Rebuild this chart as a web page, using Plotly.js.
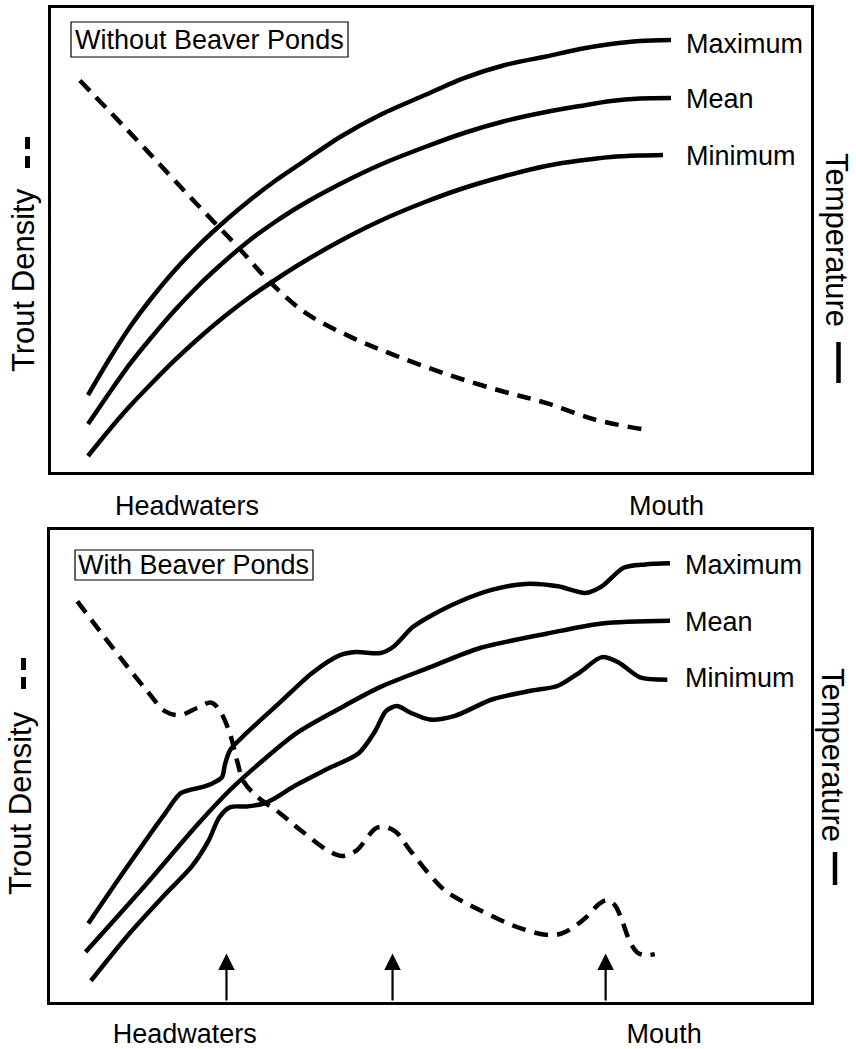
<!DOCTYPE html>
<html>
<head>
<meta charset="utf-8">
<script src="https://cdn.plot.ly/plotly-3.0.1.min.js"></script>
<style>html,body{margin:0;padding:0;background:#fff;}#chart{width:856px;height:1049px;}</style>
</head>
<body>
<div id="chart"></div>
<script>
// ---------- DATA (arbitrary units: x = distance downstream 0-100, y = relative level 0-100) ----------
// Panel 1: Without Beaver Ponds
const noPondMaxX = [4.87, 7.76, 10.39, 13.03, 16.32, 19.61, 22.89, 26.18, 29.47, 32.76, 38.03, 43.55, 49.21, 54.34, 59.74, 65.13, 69.61, 73.68, 77.50, 81.58];
const noPondMaxY = [16.59, 24.57, 31.25, 37.07, 43.53, 49.14, 54.09, 58.62, 62.72, 66.38, 72.20, 77.16, 81.25, 84.91, 87.72, 89.55, 91.16, 92.24, 92.89, 93.10];
const noPondMeanX = [4.87, 7.76, 10.39, 13.03, 16.32, 19.61, 22.89, 26.18, 29.47, 32.76, 38.03, 43.55, 49.21, 54.34, 59.74, 65.13, 69.61, 73.68, 77.50, 81.58];
const noPondMeanY = [10.34, 17.24, 23.28, 28.66, 34.91, 40.52, 45.47, 50.00, 53.88, 57.33, 62.07, 66.38, 70.04, 73.06, 75.65, 77.59, 78.88, 79.96, 80.50, 80.60];
const noPondMinX = [4.87, 7.76, 10.39, 13.03, 16.32, 19.61, 22.89, 26.18, 29.47, 32.76, 38.03, 43.55, 49.21, 54.34, 59.74, 65.13, 69.61, 73.68, 77.50, 80.53];
const noPondMinY = [3.45, 9.27, 14.22, 18.75, 24.14, 29.09, 33.62, 37.72, 41.38, 44.83, 49.78, 54.31, 58.19, 61.21, 63.79, 65.95, 67.13, 67.89, 68.21, 68.32];
const noPondTroutX = [3.80, 11.33, 18.49, 24.95, 28.53, 33.55, 39.28, 45.02, 52.19, 59.36, 65.09, 71.54, 77.99];
const noPondTroutY = [84.38, 71.49, 58.95, 47.85, 41.40, 34.24, 29.23, 25.29, 20.99, 17.41, 14.90, 11.32, 9.17];

// Panel 2: With Beaver Ponds
const pondMaxX = [5.03, 10.05, 15.08, 17.23, 20.10, 21.39, 22.61, 22.97, 23.69, 25.84, 30.15, 34.46, 38.05, 40.20, 43.43, 45.08, 47.67, 50.25, 53.84, 58.15, 62.46, 66.76, 70.35, 72.51, 75.38, 78.25, 81.48];
const pondMaxY = [16.64, 28.43, 39.86, 44.29, 45.57, 46.36, 47.64, 50.21, 53.43, 57.00, 63.36, 69.71, 73.43, 74.14, 73.93, 75.21, 79.43, 82.00, 84.86, 87.36, 88.57, 88.07, 86.64, 88.07, 92.00, 92.71, 92.93];
const pondMeanX = [4.67, 12.20, 19.45, 23.62, 28.00, 32.45, 37.69, 43.36, 49.96, 56.50, 65.33, 72.51, 81.48];
const pondMeanY = [10.57, 24.14, 37.71, 44.86, 51.21, 57.00, 61.86, 66.71, 70.93, 75.00, 78.07, 80.21, 80.79];
const pondMinX = [5.38, 10.05, 15.08, 18.66, 20.82, 22.25, 23.69, 25.84, 28.00, 29.43, 32.30, 36.61, 40.56, 42.71, 44.15, 45.59, 47.38, 49.89, 53.12, 58.15, 63.17, 66.76, 69.63, 72.51, 74.66, 77.53, 81.12];
const pondMinY = [4.50, 13.79, 22.71, 28.79, 34.14, 39.14, 41.29, 41.43, 42.00, 43.07, 45.93, 49.50, 52.71, 57.36, 61.64, 62.71, 61.29, 59.86, 60.57, 64.14, 65.93, 67.00, 69.86, 73.07, 72.00, 68.79, 68.29];
const pondTroutX = [3.59, 6.46, 10.05, 12.92, 15.08, 17.09, 19.31, 21.18, 22.25, 23.62, 24.55, 25.48, 27.28, 30.22, 33.02, 36.61, 38.41, 40.20, 43.07, 45.23, 47.38, 50.25, 52.05, 55.99, 62.17, 66.12, 67.91, 70.28, 72.29, 73.22, 74.23, 75.16, 76.24, 77.17, 78.18, 79.47];
const pondTroutY = [84.86, 78.79, 71.29, 65.57, 61.64, 60.79, 62.29, 63.43, 61.86, 57.00, 51.29, 46.64, 43.43, 40.00, 36.29, 32.00, 30.93, 32.00, 37.00, 36.29, 32.00, 26.29, 23.43, 19.86, 15.43, 14.14, 15.00, 17.71, 20.93, 21.57, 20.50, 17.29, 12.64, 10.50, 9.93, 10.14];
const pondArrowX = [23.19, 45.01, 73.01];
const pondArrowTipY = [10.3, 10.3, 10.3];

// Text
const panelTitles = ["Without Beaver Ponds", "With Beaver Ponds"];
const seriesNames = ["Maximum", "Mean", "Minimum"];
const noPondLabelY = [92.24, 80.28, 68.21];
const pondLabelY = [92.58, 80.61, 68.64];
const xTickText = ["Headwaters", "Mouth"];
const xTickTop = [17.9, 81.0];
const xTickBottom = [17.7, 80.7];
const leftTitle = "Trout Density";
const rightTitle = "Temperature";

// ---------- LAYOUT HELPERS ----------
const W = 856, H = 1049;
const px = v => v / W;
const py = v => 1 - v / H;
const FONT = "Liberation Sans, Arial, Helvetica, sans-serif";
const LBL = 27;   // label font size
const TTL = 31;   // side title font size

const solid = {color: "#000", width: 4.5, shape: "spline", smoothing: 0.8};
const dashed = {color: "#000", width: 4.5, shape: "spline", smoothing: 1, dash: "14px,9px"};

function tr(x, y, line, ax) {
  return {x: x, y: y, type: "scatter", mode: "lines", line: line,
          xaxis: ax === 1 ? "x" : "x2", yaxis: ax === 1 ? "y" : "y2",
          hoverinfo: "skip", showlegend: false};
}

const data = [
  tr(noPondMaxX, noPondMaxY, solid, 1),
  tr(noPondMeanX, noPondMeanY, solid, 1),
  tr(noPondMinX, noPondMinY, solid, 1),
  tr(noPondTroutX, noPondTroutY, dashed, 1),
  tr(pondMaxX, pondMaxY, solid, 2),
  tr(pondMeanX, pondMeanY, solid, 2),
  tr(pondMinX, pondMinY, solid, 2),
  tr(pondTroutX, pondTroutY, dashed, 2)
];

function axis(domain, tickvals, ticktext, isX, standoff) {
  const a = {domain: domain, range: [0, 100], showgrid: false, zeroline: false,
    showline: true, mirror: true, linecolor: "#000", linewidth: 3,
    ticks: "", fixedrange: true};
  if (isX) {
    a.tickvals = tickvals; a.ticktext = ticktext;
    a.tickfont = {family: FONT, size: LBL, color: "#000"};
    a.ticklabelstandoff = standoff;
  } else {
    a.showticklabels = false;
  }
  return a;
}

const annotations = [];
const shapes = [];

// Panel title boxes
shapes.push({type: "rect", xref: "paper", yref: "paper", x0: px(71), x1: px(348), y0: py(22), y1: py(57), line: {color: "#000", width: 1.2}});
shapes.push({type: "rect", xref: "paper", yref: "paper", x0: px(75), x1: px(313), y0: py(550), y1: py(580), line: {color: "#000", width: 1.2}});
annotations.push({xref: "paper", yref: "paper", x: px(74), y: py(40), xanchor: "left", yanchor: "middle", showarrow: false, text: panelTitles[0], font: {family: FONT, size: LBL, color: "#000"}, borderpad: 0});
annotations.push({xref: "paper", yref: "paper", x: px(77), y: py(565), xanchor: "left", yanchor: "middle", showarrow: false, text: panelTitles[1], font: {family: FONT, size: LBL, color: "#000"}, borderpad: 0});

// Series labels at right
seriesNames.forEach((s, i) => {
  annotations.push({xref: "x", yref: "y", x: 83.29, y: noPondLabelY[i], xanchor: "left", yanchor: "middle", showarrow: false, text: s, font: {family: FONT, size: LBL, color: "#000"}});
  annotations.push({xref: "x2", yref: "y2", x: 83.18, y: pondLabelY[i], xanchor: "left", yanchor: "middle", showarrow: false, text: s, font: {family: FONT, size: LBL, color: "#000"}});
});

// Axis titles (rotated) with line-style keys
function sideTitles(leftX, leftY, dashX, dashY, rightX, rightY, barX, barY) {
  annotations.push({xref: "paper", yref: "paper", x: px(leftX), y: py(leftY), xanchor: "center", yanchor: "middle", textangle: -90, showarrow: false, text: leftTitle, font: {family: FONT, size: TTL, color: "#000"}, borderpad: 0});
  annotations.push({xref: "paper", yref: "paper", x: px(rightX), y: py(rightY), xanchor: "center", yanchor: "middle", textangle: 90, showarrow: false, text: rightTitle, font: {family: FONT, size: TTL, color: "#000"}, borderpad: 0});
  dashY.forEach(([a, b]) => shapes.push({type: "line", xref: "paper", yref: "paper", x0: px(dashX), x1: px(dashX), y0: py(a), y1: py(b), line: {color: "#000", width: 5}}));
  shapes.push({type: "line", xref: "paper", yref: "paper", x0: px(barX), x1: px(barX), y0: py(barY[0]), y1: py(barY[1]), line: {color: "#000", width: 4.5}});
}
sideTitles(24, 280, 27.5, [[137, 149], [156, 168]], 836, 240, 838.5, [342, 383]);
sideTitles(20, 803, 23.5, [[658, 670], [677, 689]], 833, 755, 835, [852, 885]);

// Beaver pond arrows
pondArrowX.forEach((x, i) => {
  annotations.push({xref: "x2", yref: "y2", x: x, y: pondArrowTipY[i], axref: "x2", ayref: "y2", ax: x, ay: 0, text: "", showarrow: true, arrowhead: 2, arrowsize: 1.5, arrowwidth: 2.2, arrowcolor: "#000", standoff: 0});
});

const layout = {
  width: W, height: H,
  margin: {l: 0, r: 0, t: 0, b: 0},
  paper_bgcolor: "#fff", plot_bgcolor: "#fff",
  showlegend: false,
  font: {family: FONT, size: LBL, color: "#000"},
  xaxis: Object.assign(axis([px(51), px(811)], xTickTop, xTickText, true, 8), {anchor: "y"}),
  yaxis: Object.assign(axis([py(472), py(8)], null, null, false), {anchor: "x"}),
  xaxis2: Object.assign(axis([px(50), px(811)], xTickBottom, xTickText, true, 6), {anchor: "y2"}),
  yaxis2: Object.assign(axis([py(1002), py(530)], null, null, false), {anchor: "x2"}),
  annotations: annotations,
  shapes: shapes
};

Plotly.newPlot("chart", data, layout, {displayModeBar: false, staticPlot: true});
</script>
</body>
</html>
